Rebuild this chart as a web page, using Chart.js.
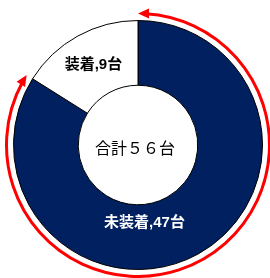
<!DOCTYPE html>
<html>
<head>
<meta charset="utf-8">
<script src="https://cdn.jsdelivr.net/npm/chart.js@4/dist/chart.umd.min.js"></script>
<style>
  html, body { margin: 0; padding: 0; background: #fff; }
  canvas { display: block; }
</style>
</head>
<body>
<canvas id="graficaAnillo" width="270" height="278"></canvas>
<script>
    const categorias = ['未装着', '装着'];
    const valores = [47, 9];
    const colores = ['#002060', '#ffffff'];
    const coloresTexto = ['#ffffff', '#000000'];
    const textoCentro = '合計５６台';

    // label anchor along arc (angle fraction, ring fraction)
    const anclaEtiqueta = [[0.58, 0.28], [0.5, 0.5]];

    const etiquetas = {
        id: 'etiquetas',
        afterDraw(chart) {
            const ctx = chart.ctx;
            const meta = chart.getDatasetMeta(0);
            const arcs = meta.data;
            const c = arcs[0];

            // red double-headed arrow around 未装着
            const r = c.outerRadius + 7;
            const a0 = c.startAngle, a1 = c.endAngle;
            ctx.save();
            ctx.strokeStyle = '#ff0000';
            ctx.fillStyle = '#ff0000';
            ctx.lineWidth = 3;
            ctx.beginPath();
            ctx.arc(c.x, c.y, r, a0 + 0.06, a1 - 0.06);
            ctx.stroke();
            function punta(ang, dir) {
                const px = c.x + r * Math.cos(ang), py = c.y + r * Math.sin(ang);
                const tx = -Math.sin(ang) * dir, ty = Math.cos(ang) * dir;
                const nx = Math.cos(ang), ny = Math.sin(ang);
                const L = 11, W = 5;
                ctx.beginPath();
                ctx.moveTo(px, py);
                ctx.lineTo(px - tx * L + nx * W, py - ty * L + ny * W);
                ctx.lineTo(px - tx * L - nx * W, py - ty * L - ny * W);
                ctx.closePath();
                ctx.fill();
            }
            punta(a0, -1);
            punta(a1, 1);
            ctx.restore();

            // slice labels
            ctx.save();
            ctx.font = 'bold 15px "Liberation Sans", "Noto Sans CJK JP", sans-serif';
            ctx.textAlign = 'center';
            ctx.textBaseline = 'middle';
            arcs.forEach(function (arc, i) {
                const f = anclaEtiqueta[i];
                const ang = arc.startAngle + (arc.endAngle - arc.startAngle) * f[0];
                const rad = arc.innerRadius + (arc.outerRadius - arc.innerRadius) * f[1];
                ctx.fillStyle = coloresTexto[i];
                ctx.fillText(categorias[i] + ',' + valores[i] + '台',
                    arc.x + rad * Math.cos(ang), arc.y + rad * Math.sin(ang));
            });

            // center total
            ctx.fillStyle = '#000000';
            ctx.font = '16px "Noto Sans CJK JP", sans-serif';
            ctx.fillText(textoCentro, c.x - 3, c.y + 3);
            ctx.restore();
        }
    };

    new Chart(document.getElementById('graficaAnillo').getContext('2d'), {
        type: 'doughnut',
        data: {
            labels: categorias,
            datasets: [{
                data: valores,
                backgroundColor: colores,
                borderColor: '#000000',
                borderWidth: 1
            }]
        },
        options: {
            responsive: false,
            animation: false,
            cutout: '48%',
            layout: { padding: { left: 13, right: 7, top: 19, bottom: 7 } },
            plugins: {
                legend: { display: false },
                tooltip: { enabled: false }
            }
        },
        plugins: [etiquetas]
    });
</script>
</body>
</html>
